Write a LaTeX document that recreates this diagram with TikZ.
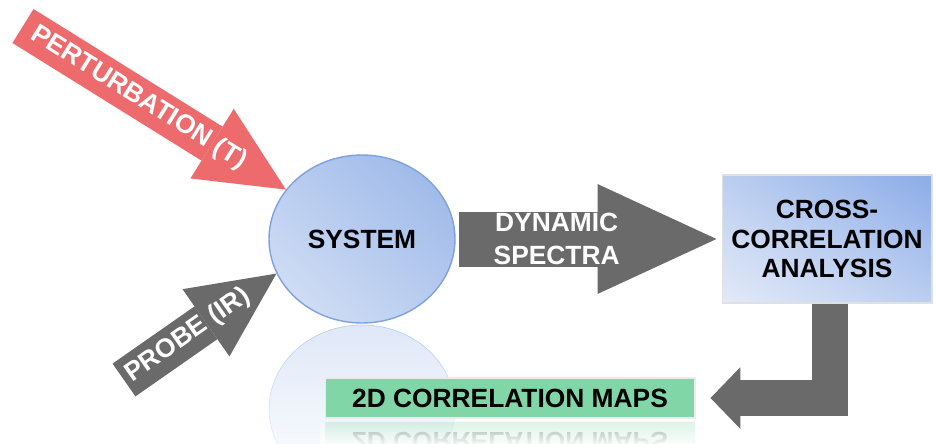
\documentclass[tikz,border=0pt]{standalone}
\usepackage{fontspec}
\setmainfont{Liberation Sans}
\usepackage{tikz}
\usetikzlibrary{positioning,arrows.meta,calc,shapes,fadings,shadings}
\definecolor{syslight}{HTML}{D8E3F6}
\definecolor{sysmid}{HTML}{B8CCEF}
\definecolor{sysdark}{HTML}{97B4E8}
\definecolor{sysedge}{HTML}{7FA1DD}
\definecolor{boxlight}{HTML}{E3EAF8}
\definecolor{boxmid}{HTML}{BBCEF0}
\definecolor{boxdark}{HTML}{8BACE8}
\definecolor{pertred}{HTML}{EE6B6D}
\definecolor{arrowgray}{HTML}{6A6A6A}
\definecolor{mapgreen}{HTML}{80D6A6}
\tikzfading[name=reflfade, top color=transparent!55, middle color=transparent!100, bottom color=transparent!100]
\tikzfading[name=coverfade, top color=transparent!100, bottom color=transparent!0]
\tikzset{
    x=0.02cm,
    y=-0.02cm,
    boldtext/.style = {
        font=\bfseries\fontsize{15}{17}\selectfont
    },
    system/.style = {
        draw=sysedge,
        shape=ellipse,
        minimum width=3.72cm,
        minimum height=3.36cm,
        line width=0.8pt,
        upper left=sysmid,
        upper right=sysdark,
        lower left=syslight,
        lower right=sysmid,
        boldtext
    },
    analysis/.style = {
        draw=black!12,
        shape=rectangle,
        minimum width=4.2cm,
        minimum height=2.56cm,
        line width=0.6pt,
        upper left=boxmid,
        upper right=boxdark,
        lower left=boxlight,
        lower right=boxmid,
        align=center,
        boldtext
    },
    maps/.style = {
        draw=black!8,
        shape=rectangle,
        fill=mapgreen,
        minimum width=7.4cm,
        minimum height=0.8cm,
        line width=0.6pt,
        boldtext
    },
    pertarrow/.style = {
        draw=pertred,
        line width=0.8cm,
        -{Triangle[width=1.64cm, length=1.74cm, line width=0pt]}
    },
    probearrow/.style = {
        draw=arrowgray,
        line width=0.8cm,
        -{Triangle[width=1.64cm, length=1.72cm, line width=0pt]}
    },
    specarrow/.style = {
        draw=arrowgray,
        line width=1.1cm,
        -{Triangle[width=2.2cm, length=2.38cm, line width=0pt]}
    },
    maparrow/.style = {
        draw=arrowgray,
        line width=0.72cm,
        -{Triangle[width=1.24cm, length=0.6cm, line width=0pt]}
    },
    arrowtext/.style = {
        text=white,
        sloped,
        boldtext
    }
}
\begin{document}
\begin{tikzpicture}
            \useasboundingbox (0,0) rectangle (936,443);

            \path[fill=sysmid, draw=sysedge, path fading=reflfade] (362,409) ellipse [x radius=1.86cm, y radius=1.68cm];

            \node[system] (system) at (362,239) {SYSTEM};
            \node[analysis] (analysis) at (827,239) {CROSS-\\CORRELATION\\ANALYSIS};
            \node[maps, yscale=-1, opacity=0.28] (mapsrefl) at (510,442) {2D CORRELATION MAPS};
            \fill[white, path fading=coverfade] (320,421) rectangle (700,447);
            \node[maps] (maps) at (510,398) {2D CORRELATION MAPS};

            \coordinate (perttail) at (23,26);
            \coordinate (probetail) at (124,380);

            \path[pertarrow] (perttail) -- (system.147) node [pos=0.44, arrowtext] {PERTURBATION (T)};
            \path[probearrow] (probetail) -- (system.202) node [pos=0.42, arrowtext] {PROBE (IR)};
            \path[specarrow, shorten <=0.06cm, shorten >=0.1cm] (system.east) -- (analysis.west) node [pos=0.38, arrowtext, align=center, font=\bfseries\fontsize{15}{19}\selectfont] {DYNAMIC\\SPECTRA};
            \path[maparrow, shorten >=0.3cm] ([xshift=0.06cm]analysis.south) |- (maps.east);
\end{tikzpicture}
\end{document}
